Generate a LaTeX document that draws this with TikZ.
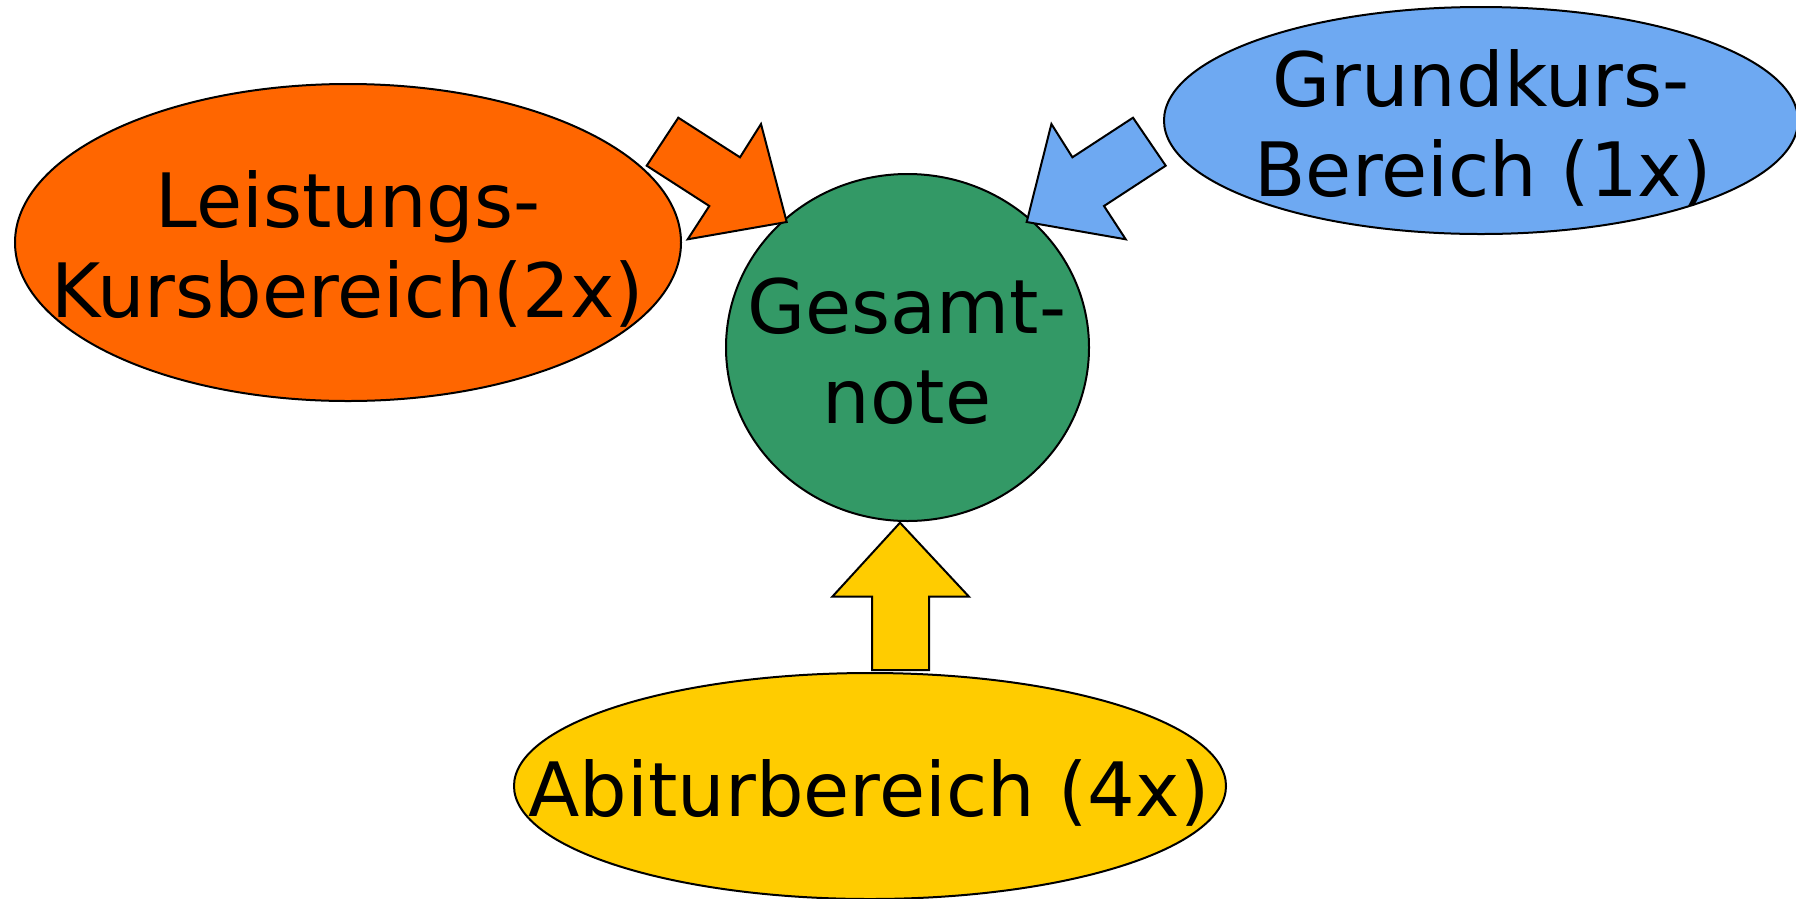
\documentclass[tikz,border=0pt]{standalone}
\usepackage{fontspec}
\setmainfont{DejaVu Sans}
\usetikzlibrary{shapes.geometric}
\definecolor{orangeC}{HTML}{FF6600}
\definecolor{greenC}{HTML}{339966}
\definecolor{blueC}{HTML}{6EA9F2}
\definecolor{yellowC}{HTML}{FFCC00}
\begin{document}
\begin{tikzpicture}[x=1pt,y=-1pt,
  ell/.style={ellipse,draw=black,line width=2pt,inner sep=0pt},
  blockarrow/.style={draw=black,line width=2pt,line join=miter},
  txt/.style={anchor=base,inner sep=0pt,font=\fontsize{75}{90}\selectfont}]
\useasboundingbox (0,0) rectangle (1796,898);
% shapes
\node[ell,fill=orangeC,minimum width=666pt,minimum height=317pt] (lk) at (348,242.5) {};
\node[ell,fill=blueC,minimum width=634pt,minimum height=227pt] (gk) at (1481,120.5) {};
\node[ell,fill=yellowC,minimum width=712pt,minimum height=226pt] (ab) at (870,786) {};
\node[ell,fill=greenC,minimum width=363pt,minimum height=347pt] (gn) at (907.5,347.5) {};
% block arrows
\draw[blockarrow,fill=orangeC] (678.3,117.7) -- (740,157.3) -- (761,124) -- (786.7,222)
  -- (687.7,239.3) -- (709.3,206) -- (646.7,165.7) -- cycle;
\draw[blockarrow,fill=blueC] (1133,117.7) -- (1072.4,157.3) -- (1051.4,124) -- (1026.7,222)
  -- (1125.7,239.3) -- (1104,206) -- (1165.7,165.7) -- cycle;
\draw[blockarrow,fill=yellowC] (900,522.7) -- (969,596.7) -- (929,596.7) -- (929,670)
  -- (872,670) -- (872,596.7) -- (832.3,596.7) -- cycle;
% texts
\node[txt] (lk1) at (348,227.5) {Leistungs-};
\node[txt] (lk2) at (348,317) {Kursbereich(2x)};
\node[txt] (gk1) at (1481,106) {Grundkurs-};
\node[txt] (gk2) at (1483,196) {Bereich (1x)};
\node[txt] (gn1) at (907,333) {Gesamt-};
\node[txt] (gn2) at (907,423) {note};
\node[txt] (ab1) at (869,816) {Abiturbereich (4x)};
\end{tikzpicture}
\end{document}
